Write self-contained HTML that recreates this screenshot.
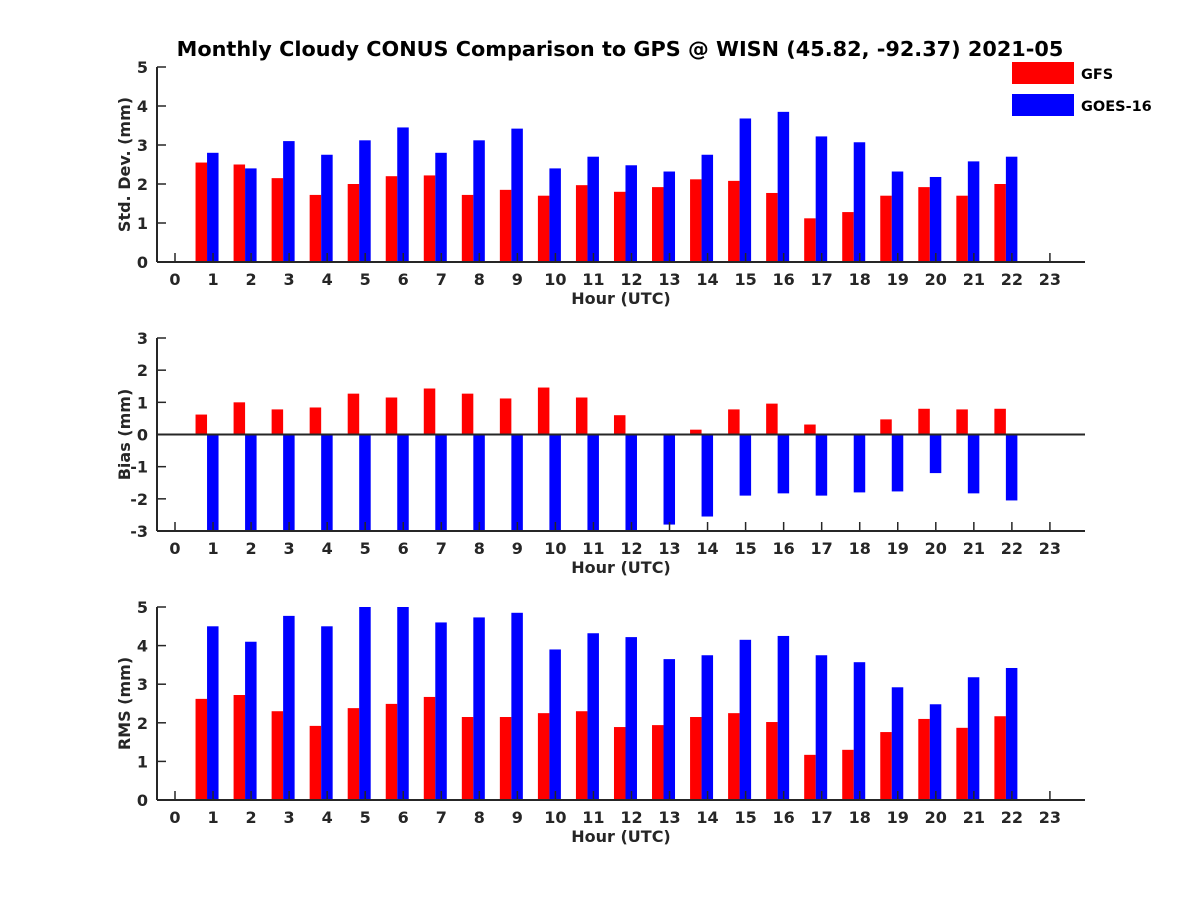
<!DOCTYPE html>
<html><head><meta charset="utf-8"><style>
body{margin:0;background:#fff;}
svg{display:block;font-family:"DejaVu Sans","Liberation Sans",sans-serif;font-weight:bold;}
</style></head><body>
<svg id="chart" width="1200" height="900" viewBox="0 0 1200 900">
<rect width="1200" height="900" fill="#fff"/>
<text x="620" y="56" text-anchor="middle" font-size="20.8" fill="#000">Monthly Cloudy CONUS Comparison to GPS @ WISN (45.82, -92.37) 2021-05</text>
<g>
<rect x="1012" y="62" width="62" height="22" fill="#ff0000"/>
<text x="1081" y="79" font-size="14.5">GFS</text>
<rect x="1012" y="94" width="62" height="22" fill="#0000ff"/>
<text x="1081" y="111" font-size="14.5">GOES-16</text>
</g>
</svg>
<script>
const hours = [1,2,3,4,5,6,7,8,9,10,11,12,13,14,15,16,17,18,19,20,21,22];
const stdGFS = [2.55,2.5,2.15,1.72,2.0,2.2,2.22,1.72,1.85,1.7,1.97,1.8,1.92,2.12,2.08,1.77,1.12,1.28,1.7,1.92,1.7,2.0];
const stdGOES = [2.8,2.4,3.1,2.75,3.12,3.45,2.8,3.12,3.42,2.4,2.7,2.48,2.32,2.75,3.68,3.85,3.22,3.07,2.32,2.18,2.58,2.7];
const biasGFS = [0.62,1.0,0.78,0.84,1.27,1.15,1.43,1.27,1.12,1.46,1.15,0.6,0,0.15,0.78,0.96,0.31,0,0.47,0.8,0.78,0.8];
const biasGOES = [-3.5,-3.5,-3.5,-3.5,-3.5,-3.5,-3.5,-3.5,-3.5,-3.5,-3.5,-3.5,-2.8,-2.55,-1.9,-1.83,-1.9,-1.8,-1.77,-1.2,-1.83,-2.05];
const rmsGFS = [2.62,2.72,2.3,1.92,2.38,2.49,2.67,2.15,2.15,2.25,2.3,1.89,1.94,2.15,2.25,2.02,1.17,1.3,1.76,2.1,1.87,2.17];
const rmsGOES = [4.5,4.1,4.77,4.5,5.2,5.2,4.6,4.73,4.85,3.9,4.32,4.22,3.65,3.75,4.15,4.25,3.75,3.57,2.92,2.48,3.18,3.42];
const xTicks = [0,1,2,3,4,5,6,7,8,9,10,11,12,13,14,15,16,17,18,19,20,21,22,23];
const stdTicks = [0,1,2,3,4,5];
const biasTicks = [-3,-2,-1,0,1,2,3];
const rmsTicks = [0,1,2,3,4,5];

const NS = "http://www.w3.org/2000/svg";
const svg = document.getElementById('chart');
const X0 = 157, X1 = 1085;
function xs(h){ return 175 + 38.04*h; }
function mk(tag, attrs, parent){
  const e = document.createElementNS(NS, tag);
  for (const k in attrs) e.setAttribute(k, attrs[k]);
  (parent||svg).appendChild(e);
  return e;
}
function panel(name, top, bottom, ymin, ymax, ticks, ylabel, red, blue){
  const g = mk('g', {});
  
  
  const ys = v => bottom - (v - ymin) / (ymax - ymin) * (bottom - top);
  const clipId = 'clip-' + name;
  const cp = mk('clipPath', {id: clipId}, g);
  mk('rect', {x: X0, y: top, width: X1 - X0, height: bottom - top}, cp);
  const bars = mk('g', {'clip-path': 'url(#' + clipId + ')'}, g);
  const base = ys(Math.max(ymin, 0));
  const bw = 11.5;
  hours.forEach((h, i) => {
    [[red[i], '#ff0000', -17.5, 'gfs'], [blue[i], '#0000ff', -6, 'goes']].forEach(([v, c, off, s]) => {
      const y = ys(v);
      const r = mk('rect', {x: xs(h) + off, y: Math.min(y, base), width: bw, height: Math.abs(y - base), fill: c}, bars);
      
      
    });
  });
  const ax = '#262626';
  mk('line', {x1: X0, y1: top, x2: X0, y2: bottom, stroke: ax, 'stroke-width': 2}, g);
  mk('line', {x1: X0, y1: bottom, x2: X1, y2: bottom, stroke: ax, 'stroke-width': 2}, g);
  if (ymin < 0) mk('line', {x1: X0, y1: ys(0), x2: X1, y2: ys(0), stroke: ax, 'stroke-width': 2}, g);
  ticks.forEach(t => {
    const y = ys(t);
    mk('line', {x1: X0, y1: y, x2: X0 + 9, y2: y, stroke: ax, 'stroke-width': 1.5}, g);
    const tx = mk('text', {x: X0 - 9, y: y + 6, 'text-anchor': 'end', 'font-size': 16, fill: '#262626'}, g);
    tx.textContent = t;
    
    
  });
  xTicks.forEach(t => {
    const x = xs(t);
    mk('line', {x1: x, y1: bottom, x2: x, y2: bottom - 9, stroke: ax, 'stroke-width': 1.5}, g);
    const tx = mk('text', {x: x, y: bottom + 23, 'text-anchor': 'middle', 'font-size': 16, fill: '#262626'}, g);
    tx.textContent = t;
    
    
  });
  const xl = mk('text', {x: 621, y: bottom + 42, 'text-anchor': 'middle', 'font-size': 16, fill: '#262626'}, g);
  xl.textContent = 'Hour (UTC)';
  
  
  const cy = (top + bottom) / 2;
  const yl = mk('text', {x: 130, y: cy, 'text-anchor': 'middle', 'font-size': 16, fill: '#262626', transform: 'rotate(-90 130 ' + cy + ')'}, g);
  yl.textContent = ylabel;
  
  
}
panel('std', 67, 262, 0, 5, stdTicks, 'Std. Dev. (mm)', stdGFS, stdGOES);
panel('bias', 338, 531, -3, 3, biasTicks, 'Bias (mm)', biasGFS, biasGOES);
panel('rms', 607, 800, 0, 5, rmsTicks, 'RMS (mm)', rmsGFS, rmsGOES);
</script>
</body></html>
